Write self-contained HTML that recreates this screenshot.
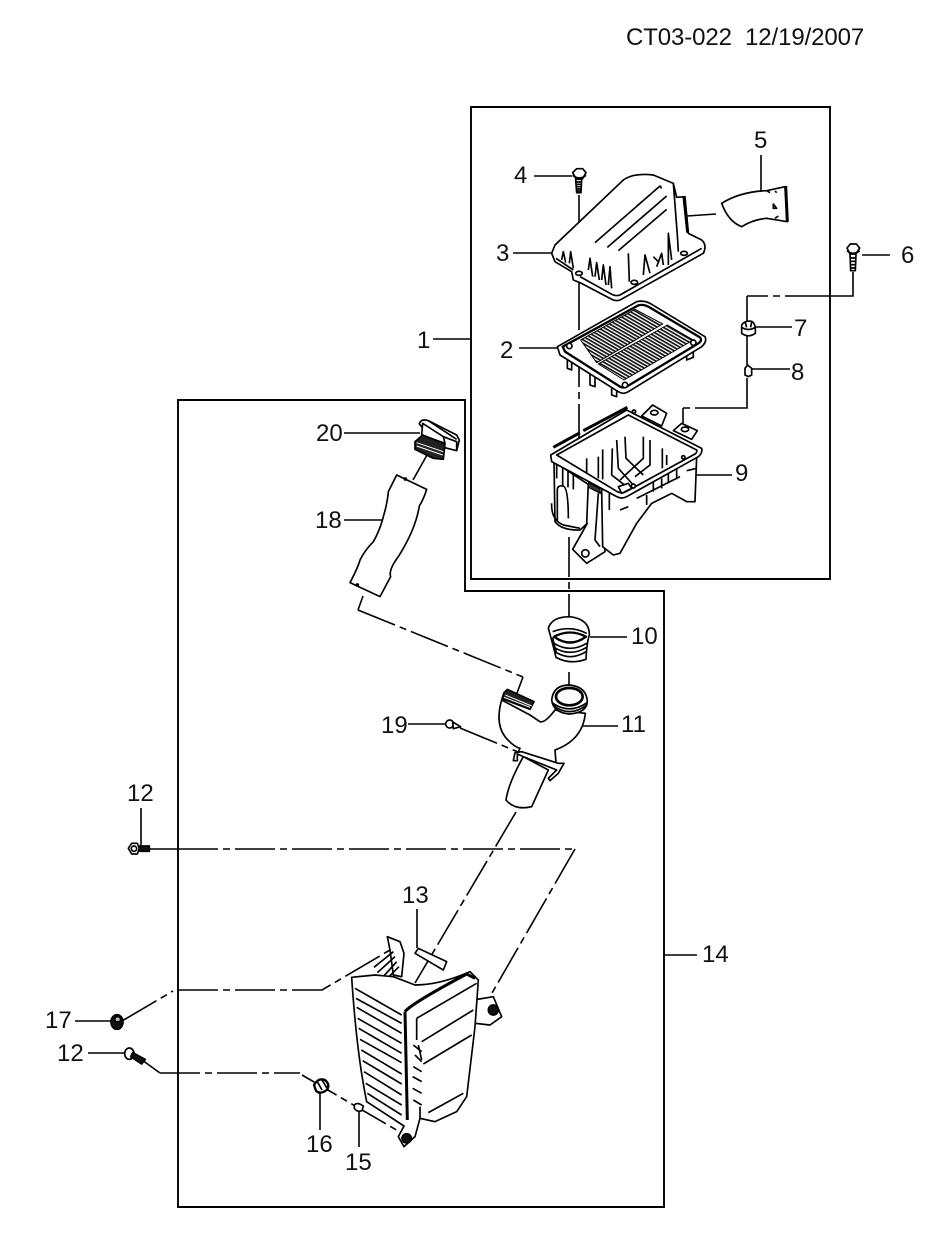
<!DOCTYPE html>
<html><head><meta charset="utf-8"><style>
html,body{margin:0;padding:0;background:#fff}
svg{display:block}
text{font-family:"Liberation Sans",sans-serif;font-size:24px;fill:#111;white-space:pre}
.l{fill:none;stroke:#000;stroke-width:1.6}
.d{fill:none;stroke:#000;stroke-width:1.6;stroke-dasharray:40 5 7 5}
.p path,.p ellipse,.p circle,.p polygon{fill:#fff;stroke:#000;stroke-width:5;stroke-linejoin:round}
.p .n{fill:none}
.p .k{fill:#111}
.p .t{fill:none;stroke-width:9}
</style></head><body>
<svg width="935" height="1247" viewBox="0 0 935 1247" xmlns="http://www.w3.org/2000/svg">
<defs>
<pattern id="h" width="9" height="9" patternUnits="userSpaceOnUse" patternTransform="rotate(30)"><rect width="9" height="9" fill="#fff"/><rect width="9" height="5" fill="#111"/></pattern>
</defs>
<rect width="935" height="1247" fill="#fff"/>
<text x="626" y="45" style="letter-spacing:-.1px">CT03-022&#160;&#160;12/19/2007</text>

<path d="M471 107H830V579H471Z" fill="none" stroke="#000" stroke-width="1.9"/>
<path d="M178 400H465V591H664V1207H178Z" fill="none" stroke="#000" stroke-width="1.9"/>

<!-- leaders -->
<path class="l" d="M433 339H471M519 348H557M513 253H551M534 176H572M761 155V191M862 255H890M753 327H792M752 369H790M695 475H732M590 637H627M583 726H618M141 808V845M88 1053H125M417 909V948M664 955H697M359 1110V1147M320 1092V1130M75 1021H111M344 520H382M408 724H446M344 433H420"/>

<!-- centre lines -->
<path class="l" d="M579 195V290"/>
<path class="d" d="M579 290V477"/>
<path class="d" d="M569 537V637"/>
<path class="l" d="M569 672V695"/>
<path class="l" d="M687 216L716 214"/>
<path class="l" d="M853 272V296H825"/>
<path class="d" d="M825 296H747"/>
<path class="l" d="M747 296V322M747 335V365M747 378V408H735"/>
<path class="d" d="M735 408H683"/>
<path class="l" d="M683 408V428"/>
<path class="l" d="M427 455L413 480M363 596L358 610"/>
<path class="d" d="M358 610L523 677"/>
<path class="l" d="M523 677L517 693"/>
<path class="d" d="M460 728L540 761"/>
<path class="l" d="M150 849H178"/>
<path class="d" d="M178 849H575"/>
<path class="d" d="M575 849L488 1000"/>
<path class="d" d="M516 812L415 983"/>
<path class="d" d="M122 1021L173 991"/>
<path class="d" d="M178 990H322L390 950"/>
<path class="l" d="M142 1060L160 1073"/>
<path class="d" d="M160 1073H300"/>
<path class="d" d="M302 1075L400 1132"/>

<!-- parts in zoom 1 coordinates -->
<g class="p" transform="translate(480 120) scale(.33333)">
 <path d="M215 400L225 375L430 180Q460 158 520 165L580 190L590 232L615 230L625 340L665 360Q682 375 670 400L420 540Q405 545 390 535L300 488L280 480L275 455L225 425Z"/>
 <path class="n" d="M228 415L280 450M300 470L390 520Q405 530 420 525L665 385M580 190L592 345M592 345L595 395M345 368L540 198L545 205M382 382L560 228M415 392L560 268M445 400L448 485"/>
 <path class="t" d="M612 232L623 338"/>
 <path class="n" d="M245 420L250 395L257 428M268 430L272 395L280 445M325 450L330 415L338 470M345 470L350 428L358 480M365 480L370 435L378 495M385 495L390 440L395 505M490 465L495 405L510 460M565 435L565 340L575 420M530 440L545 400L550 435M520 410L535 425"/>
 <ellipse cx="463" cy="487" rx="10" ry="6"/><ellipse cx="612" cy="400" rx="10" ry="6"/><ellipse cx="297" cy="460" rx="10" ry="6"/>
 <!-- bolt 4 -->
 <path d="M278 158L290 146H308L318 158L308 176H288Z"/><path d="M287 178H305L303 218H290Z"/><path class="n" d="M287 186H305M287 193H305M288 200H304M289 207H303M290 213H303M278 166Q298 182 318 166"/>
 <!-- 5 -->
 <path d="M725 250Q780 215 860 212L915 200L922 305L860 295Q820 298 785 320Q745 305 725 250Z"/>
 <path class="t" d="M917 198L922 305"/><path class="n" d="M860 212L870 218M885 213L890 218M880 252L890 265L880 265ZM885 295L895 288"/>
 <!-- filter -->
 <path d="M262 715V745L275 750V725ZM330 760V795L345 800V770ZM395 790V825L410 830V800ZM620 690V720L640 712V680Z"/>
 <path d="M232 680L470 545Q490 540 510 550L675 650Q682 665 665 680L445 815Q430 825 415 815L240 705Z"/>
 <path class="t" style="stroke-width:7" d="M248 680L475 556Q490 552 505 560L660 652Q668 662 655 670L440 800Q430 805 420 800L255 695Z"/>
 <path style="fill:url(#h);stroke-width:3" d="M302 660L465 568L548 612L350 728Z"/>
 <path style="fill:url(#h);stroke-width:3" d="M355 732L562 615L640 660L432 780Z"/>
 <circle cx="268" cy="678" r="8"/><circle cx="640" cy="668" r="8"/><circle cx="435" cy="795" r="8"/>
 <!-- nut 7 -->
 <path d="M785 615Q795 600 815 604Q828 610 826 640Q805 655 785 640Z"/><path class="n" d="M785 622Q805 635 826 622M795 605L800 622M815 605L812 622"/>
 <!-- 8 -->
 <path d="M795 745L803 735L815 745V765L805 770L795 765Z"/>
</g>

<!-- airbox zoom 2 -->
<g class="p" transform="translate(480 390) scale(.33333)">
 <path d="M485 78L518 45L560 70L552 90L545 108Z"/><path d="M580 122L605 100L652 122L635 148Z"/>
 <ellipse cx="523" cy="68" rx="11" ry="7"/><ellipse cx="615" cy="118" rx="11" ry="7"/>
 <path d="M222 215L225 395Q245 422 300 420L322 400L278 478L320 520L375 485L365 310Z"/>
 <path d="M365 300L368 470L400 495L420 490L470 400L515 340L575 310L620 335L645 335L650 200Z"/>
 <path d="M212 195L440 60L665 175Q668 190 655 200L440 320Q425 328 410 320L215 215Z"/>
 <path class="t" d="M220 172L300 128M310 122L442 52"/>
 <path class="n" d="M230 195L445 75L650 180Q652 188 645 192L438 305Q425 312 412 305Z"/>
 <path class="n" d="M215 340Q213 390 250 405L300 415M232 300Q232 285 250 288Q265 295 265 385M232 300V395M325 280L320 400M355 310L345 450L360 470"/>
 <path class="n" d="M230 225V265M248 232V285M264 240V292M280 248V298M320 205V250M355 200V265M368 178V268M397 175L395 255L440 290M410 150L415 235L460 285M435 140L438 205L490 255M490 140L490 205L420 270M510 150L510 225L465 260M547 175L547 235M560 195V225M500 315V345M520 275V305M545 265V295M565 250V280M590 238V268M388 310V360M420 360L445 350M470 325L600 260M620 242L650 235"/>
 <path style="fill:#333;stroke-width:3" d="M325 278L360 296V310L325 292Z"/>
 <path d="M415 290L445 280L455 295L425 310Z"/><circle cx="460" cy="288" r="6"/><circle cx="462" cy="65" r="5"/><circle cx="610" cy="202" r="5"/>
 <circle cx="316" cy="490" r="11"/>
</g>

<!-- 18 & 20 zoom 3 -->
<g class="p" transform="translate(300 400) scale(.33333)">
 <path d="M290 225L380 268Q372 295 358 318Q352 355 335 395Q320 430 295 470Q265 510 272 530L240 590L150 548Q175 500 180 480Q195 450 220 425Q240 390 250 350Q262 310 265 275Z"/>
 <circle cx="316" cy="237" r="3"/><circle cx="172" cy="555" r="3"/>
 <path d="M358 72Q362 55 385 62L470 105L478 120L470 152L430 142L430 110L380 98Z"/>
 <path d="M368 70L365 105L435 130L430 110Z"/>
 <path class="n" d="M430 110L470 125V152M385 62L470 118"/>
 <path style="fill:#222" d="M345 125L368 105L435 132L430 178L400 175L345 148Z"/>
 <path style="stroke:#fff;stroke-width:3;fill:none" d="M350 128L430 155M350 138L428 165"/>
</g>

<!-- 10, 11, 19 zoom 4 -->
<g class="p" transform="translate(430 600) scale(.33333)">
 <path d="M355 85Q365 50 420 50Q480 58 478 105Q470 130 468 178Q420 195 378 172Q368 130 355 85Z"/>
 <path class="n" d="M368 95Q420 75 470 100M372 130Q420 160 470 130M372 142Q420 172 470 142M375 155Q420 185 468 155M368 112Q372 135 380 160"/>
 <path style="fill:#fff;stroke-width:7" d="M372 110Q420 85 468 110Q420 145 372 110Z"/>
 <path d="M280 470L355 510L305 620Q255 632 228 600Q235 550 280 470Z"/>
 <path d="M215 300Q195 370 225 410Q250 440 270 445L265 455L378 490L375 450Q458 420 466 340L375 330Q345 370 330 365L300 345Z"/>
 <path d="M250 482L255 458L275 455L385 490L402 490L385 520L360 542L355 535L380 510L280 470L262 462L262 482Z"/>
 <path style="fill:#222" d="M222 278L232 268L312 305L300 328L216 296Z"/>
 <path style="stroke:#fff;stroke-width:3;fill:none" d="M226 285L305 318M222 292L300 322"/>
 <path d="M365 300Q370 255 418 255Q470 260 472 305Q470 338 418 342Q370 338 365 300Z"/>
 <path class="n" d="M368 315Q418 355 470 315M366 308Q418 345 471 308"/>
 <ellipse cx="418" cy="290" rx="40" ry="26" style="stroke-width:8"/>
 <circle cx="59" cy="372" r="12"/><path d="M68 366L92 380L70 386Z"/>
</g>

<!-- tank zoom 5 -->
<g class="p" transform="translate(300 920) scale(.33333)">
 <path d="M262 50L300 65L312 100L305 170L280 165L270 90Z"/>
 <path class="n" d="M222 142L280 95M232 158L285 110M248 172L290 125M262 175L297 140"/>
 <path d="M520 240L580 230L605 290L570 315L525 310Z"/>
 <circle cx="580" cy="270" r="15" class="k"/>
 <path d="M155 172L225 165L280 170L345 195Q420 195 510 155L535 180L525 320L500 530L470 575L405 605L360 595L345 650L312 680L295 650L312 618L200 545Q170 400 155 172Z"/>
 <path class="t" d="M315 275Q335 250 500 162L525 175M315 275L322 600"/>
 <path class="n" d="M165 205L305 285M168 235L305 310M170 262L305 340M173 295L305 370M176 325L305 400M180 358L305 428M184 390L305 462M188 422L305 492M192 455L305 525M197 490L305 555M202 520L305 585M350 295V360M365 365L520 270M350 295L530 190M370 432L515 345M385 578L490 520M340 375L365 395M345 405L365 425M340 440L365 455M338 470L365 485M338 505L365 520M340 540L365 555M355 375L365 420M360 595L360 560"/>
 <circle cx="320" cy="655" r="14" class="k"/>
 <path d="M345 100L355 85L440 125L430 150Z"/>
 <path style="stroke-width:7" d="M42 495Q55 472 75 480Q92 495 80 510Q60 525 48 512Z"/><path class="n" d="M52 485L66 510M65 478L80 503"/>
 <path d="M163 555Q172 545 190 558L186 572Q172 578 163 565Z"/>
</g>

<!-- small bolts zoom 6 -->
<g class="p" transform="translate(40 780) scale(.33333)">
 <path d="M265 205L275 190H292L298 205L292 222H275Z"/><path class="k" d="M298 198H328V214H298Z"/><circle cx="282" cy="206" r="8"/>
 <ellipse cx="231" cy="726" rx="18" ry="22" class="k"/><ellipse cx="233" cy="718" rx="9" ry="8" style="fill:#bbb"/>
 <ellipse cx="268" cy="821" rx="14" ry="17"/><path class="k" d="M278 818L316 838L305 852L272 830Z"/>
</g>
<!-- bolt 6 -->
<g class="p" transform="translate(853 250) scale(.33333)">
 <path d="M-18 -6L-8 -18H10L20 -6L10 10H-10Z"/><path d="M-9 12H9L7 62H-7Z"/><path class="n" d="M-9 24H9M-9 34H9M-8 44H8M-8 54H7M-18 2Q0 18 20 2"/>
</g>

<text x="417" y="348">1</text>
<text x="500" y="358">2</text>
<text x="496" y="261">3</text>
<text x="514" y="183">4</text>
<text x="754" y="148">5</text>
<text x="901" y="263">6</text>
<text x="794" y="336">7</text>
<text x="791" y="380">8</text>
<text x="735" y="481">9</text>
<text x="631" y="644">10</text>
<text x="621" y="732">11</text>
<text x="127" y="801">12</text>
<text x="57" y="1061">12</text>
<text x="402" y="903">13</text>
<text x="702" y="962">14</text>
<text x="345" y="1170">15</text>
<text x="306" y="1152">16</text>
<text x="45" y="1028">17</text>
<text x="315" y="528">18</text>
<text x="381" y="733">19</text>
<text x="316" y="441">20</text>
</svg>
</body></html>
